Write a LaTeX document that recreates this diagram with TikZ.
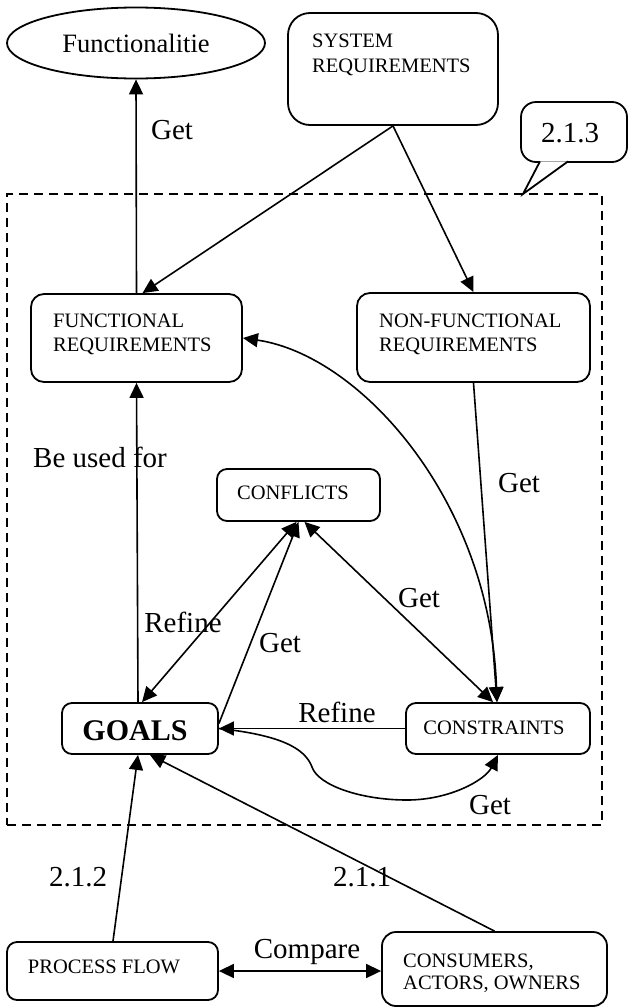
\documentclass[tikz,border=0pt]{standalone}
\usepackage{fontspec}
\setmainfont{Liberation Serif}
\usetikzlibrary{arrows.meta,shapes.geometric}
\begin{document}
\begin{tikzpicture}[x=1pt,y=-1pt,
  box/.style={draw,line width=1.8pt,rounded corners=#1,inner sep=0pt,fill=white},
  box/.default=12pt,
  lbl/.style={font=\fontsize{29}{31}\selectfont,inner sep=0pt},
  btxt/.style={font=\fontsize{20.5}{22}\selectfont,inner sep=0pt},
  arr/.style={line width=1.6pt,-{Triangle[length=15pt,width=14pt]}},
  darr/.style={line width=1.6pt,{Triangle[length=15pt,width=14pt]}-{Triangle[length=15pt,width=14pt]}},
  ln/.style={line width=1.6pt}]
\useasboundingbox (0,0) rectangle (629,1007);

% dashed frame
\node[draw,line width=1.5pt,dash pattern=on 9pt off 6pt,minimum width=595pt,minimum height=631pt,inner sep=0pt] (frame) at (304.5,509.5) {};

% ellipse
\node[draw,ellipse,line width=1.8pt,minimum width=258pt,minimum height=71pt,inner sep=0pt,font=\fontsize{26.5}{28}\selectfont] (ell) at (136,43) {Functionalitie};

% system requirements
\node[box=22pt,minimum width=210pt,minimum height=112pt] (sys) at (393,69) {};
\node[btxt,anchor=base west] (sysA) at (312,47) {SYSTEM};
\node[btxt,anchor=base west] (sysB) at (312,72) {REQUIREMENTS};

% callout
\node[box=15pt,minimum width=106pt,minimum height=60pt] (call) at (574,132) {};
\coordinate (ctip) at (523,194);
\draw[line width=1.8pt,fill=white] ([xshift=-34pt,yshift=1.5pt]call.south) -- (ctip) -- ([xshift=-6pt,yshift=1.5pt]call.south);
\node[lbl] (calltxt) at (570,133) {2.1.3};

% boxes
\node[box=13pt,minimum width=211pt,minimum height=88pt] (fr) at (136.5,338) {};
\node[btxt,anchor=base west] (frA) at (53,327) {FUNCTIONAL};
\node[btxt,anchor=base west] (frB) at (53,351) {REQUIREMENTS};

\node[box=13pt,minimum width=233pt,minimum height=89pt] (nf) at (473.5,337.5) {};
\node[btxt,anchor=base west] (nfA) at (379,327) {NON-FUNCTIONAL};
\node[btxt,anchor=base west] (nfB) at (379,351) {REQUIREMENTS};

\node[box=10pt,minimum width=163pt,minimum height=52pt] (conf) at (298.5,495) {};
\node[btxt] (conftxt) at (293,493) {CONFLICTS};

\node[box=10pt,minimum width=156pt,minimum height=51pt] (goals) at (140,728.5) {};
\node[font=\fontsize{30}{32}\selectfont\bfseries,inner sep=0pt] (goalstxt) at (135,731) {GOALS};

\node[box=10pt,minimum width=184pt,minimum height=51pt] (cons) at (498,728.5) {};
\node[btxt] (constxt) at (494,728) {CONSTRAINTS};

\node[box=10pt,minimum width=211pt,minimum height=58pt] (pf) at (112.5,971) {};
\node[btxt] (pftxt) at (104,967) {PROCESS FLOW};

\node[box=14pt,minimum width=225pt,minimum height=74pt] (cust) at (494.5,969) {};
\node[btxt,anchor=base west] (custA) at (403,967) {CONSUMERS,};
\node[btxt,anchor=base west] (custB) at (403,989) {ACTORS, OWNERS};

% connectors
\draw[arr] (fr.north) -- (ell.south);
\draw[arr] (sys.south) -- ([xshift=6pt]fr.north);
\draw[arr] (sys.south) -- (nf.north);
\draw[darr] (fr.east) .. controls (360,355) and (490,500) .. ([xshift=-1pt]cons.north);
\draw[arr] (nf.south) -- ([xshift=-1pt]cons.north);
\draw[arr] ([xshift=-2pt]goals.north) -- (fr.south);
\draw[darr] ([xshift=2pt]goals.north) -- ([xshift=-2pt]conf.south);
\draw[arr] ([yshift=5pt]goals.east) -- (conf.south);
\draw[darr] ([xshift=6pt]conf.south) -- ([xshift=-5pt]cons.north);
\draw[arr] (cons.west) -- (goals.east);
\draw[arr] (goals.east) .. controls (280,735) and (305,748) .. (312,767) .. controls (318,785) and (360,800) .. (407,800) .. controls (450,800) and (485,780) .. (cons.south);
\draw[arr] ([xshift=0.5pt]pf.north) -- ([xshift=-2pt]goals.south);
\draw[arr] (cust.north) -- ([xshift=10pt]goals.south);
\draw[darr] (pf.east) -- (pf.east -| cust.west);

% labels
\node[lbl] (getA) at (172,130) {Get};
\node[lbl] (getB) at (519,483) {Get};
\node[lbl,anchor=base west] (used) at (33,467) {Be used for};
\node[lbl] (refA) at (183,622) {Refine};
\node[lbl] (getC) at (280,643) {Get};
\node[lbl] (getD) at (419,598) {Get};
\node[lbl] (refB) at (337,712) {Refine};
\node[lbl] (getE) at (490,805) {Get};
\node[lbl] (l212) at (78,877) {2.1.2};
\node[lbl] (l211) at (362,877) {2.1.1};
\node[lbl] (cmp) at (307,952) {Compare};
\end{tikzpicture}
\end{document}
